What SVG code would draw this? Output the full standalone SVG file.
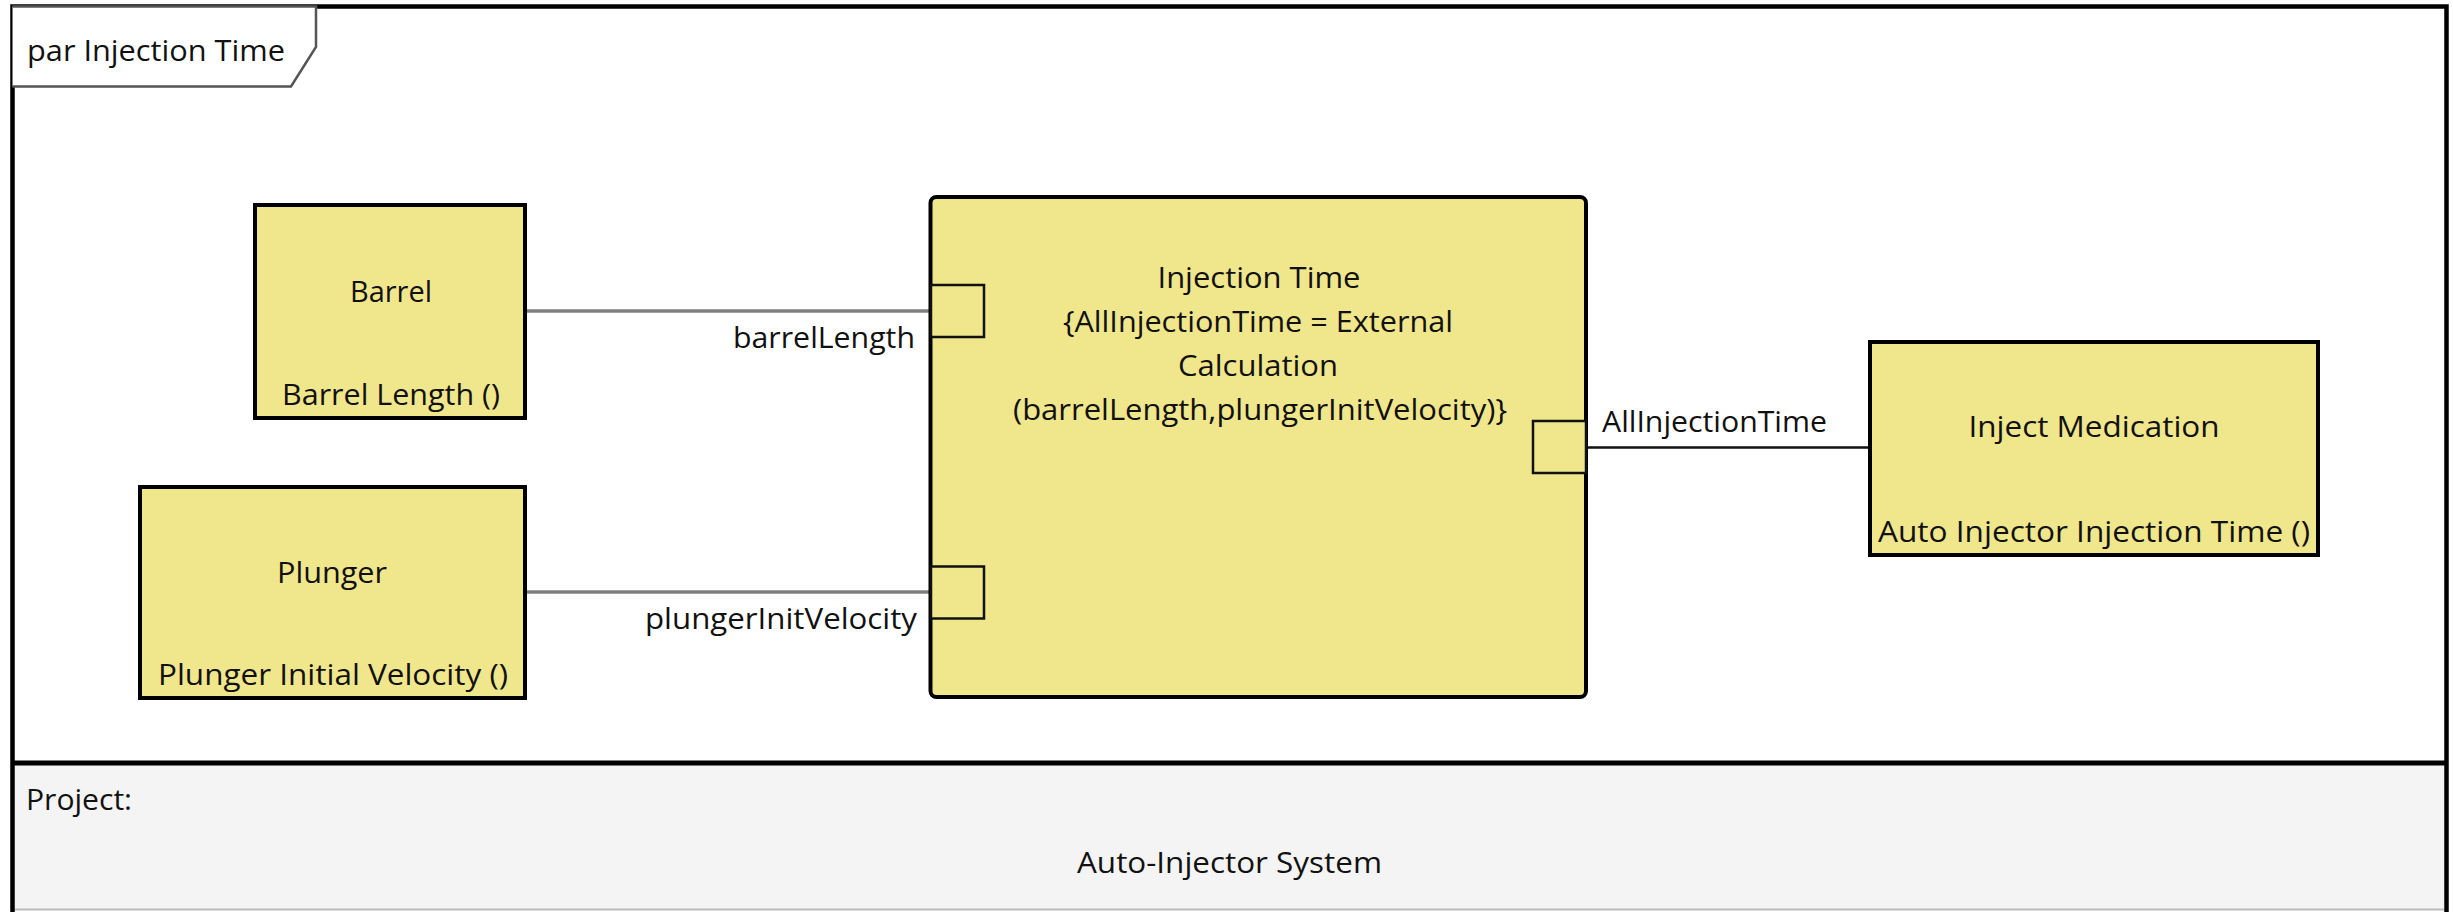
<svg xmlns="http://www.w3.org/2000/svg" width="2453" height="912" viewBox="0 0 2453 912">
<style>
text{font-family:"Open Sans","Noto Sans","DejaVu Sans",sans-serif;font-size:30px;fill:#111}
.blk{fill:#F0E68C;stroke:#000;stroke-width:4}
.port{fill:#F0E68C;stroke:#111;stroke-width:2.5}
.mid{text-anchor:middle}
.end{text-anchor:end}
.gray{stroke:#808080;stroke-width:3.5;fill:none}
.dark{stroke:#111;stroke-width:2.5;fill:none}
</style>
<g id="frame">
<rect x="0" y="0" width="2453" height="912" fill="#fff"/>
<rect x="12.5" y="763" width="2434" height="146" fill="#f4f4f4"/>
<rect x="12.5" y="6.5" width="2434" height="915" fill="none" stroke="#000" stroke-width="4.5"/>
<line x1="15" y1="909.5" x2="2444" y2="909.5" stroke="#bbb" stroke-width="2"/>
<line x1="12.5" y1="763" x2="2446" y2="763" stroke="#000" stroke-width="5"/>
<path d="M12.5 6.5 H316 V47 L291 86.5 H12.5" fill="#fff" stroke="#555" stroke-width="2.5"/>
<text x="27" y="61" textLength="258" lengthAdjust="spacingAndGlyphs">par Injection Time</text>
<text x="26" y="810" textLength="106" lengthAdjust="spacingAndGlyphs">Project:</text>
<text x="1229.5" y="873" class="mid" textLength="305" lengthAdjust="spacingAndGlyphs">Auto-Injector System</text>
</g>
<g id="connectors">
<line x1="527" y1="311" x2="930" y2="311" class="gray"/>
<line x1="527" y1="592" x2="930" y2="592" class="gray"/>
<line x1="1587" y1="447.5" x2="1868" y2="447.5" class="dark"/>
<text x="915" y="348" class="end" textLength="182" lengthAdjust="spacingAndGlyphs">barrelLength</text>
<text x="917" y="629" class="end" textLength="272" lengthAdjust="spacingAndGlyphs">plungerInitVelocity</text>
<text x="1602" y="432" textLength="225" lengthAdjust="spacingAndGlyphs">AllInjectionTime</text>
</g>
<g id="barrel">
<rect x="255" y="205" width="270" height="213" class="blk"/>
<text x="391" y="302" class="mid" textLength="82" lengthAdjust="spacingAndGlyphs">Barrel</text>
<text x="391" y="405" class="mid" textLength="218" lengthAdjust="spacingAndGlyphs">Barrel Length ()</text>
</g>
<g id="plunger">
<rect x="140" y="487" width="385" height="211" class="blk"/>
<text x="332" y="583" class="mid" textLength="110" lengthAdjust="spacingAndGlyphs">Plunger</text>
<text x="333" y="685" class="mid" textLength="350" lengthAdjust="spacingAndGlyphs">Plunger Initial Velocity ()</text>
</g>
<g id="injection-time">
<rect x="930.5" y="197" width="655.5" height="500" rx="6" class="blk"/>
<rect x="931" y="285" width="53" height="52" class="port"/>
<rect x="931" y="566.5" width="53" height="52" class="port"/>
<rect x="1533" y="421" width="53" height="52" class="port"/>
<text x="1259" y="288" class="mid" textLength="203" lengthAdjust="spacingAndGlyphs">Injection Time</text>
<text x="1258" y="332" class="mid" textLength="390" lengthAdjust="spacingAndGlyphs">{AllInjectionTime = External</text>
<text x="1258" y="376" class="mid" textLength="160" lengthAdjust="spacingAndGlyphs">Calculation</text>
<text x="1260" y="420" class="mid" textLength="494" lengthAdjust="spacingAndGlyphs">(barrelLength,plungerInitVelocity)}</text>
</g>
<g id="inject-medication">
<rect x="1870" y="342" width="448" height="213" class="blk"/>
<text x="2094" y="437" class="mid" textLength="251" lengthAdjust="spacingAndGlyphs">Inject Medication</text>
<text x="2094" y="542" class="mid" textLength="432" lengthAdjust="spacingAndGlyphs">Auto Injector Injection Time ()</text>
</g>
</svg>
